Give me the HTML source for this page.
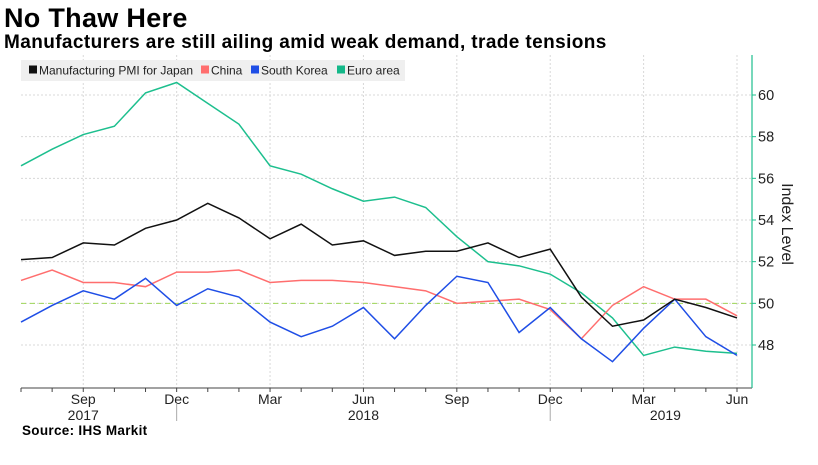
<!DOCTYPE html>
<html><head><meta charset="utf-8"><style>
body{margin:0;background:#fff;font-family:"Liberation Sans",sans-serif}
#wrap{position:relative;width:818px;height:465px;overflow:hidden}
.t{position:absolute;font-weight:bold;color:#000;white-space:nowrap}
</style></head><body>
<div id="wrap">
<div class="t" style="left:4px;top:3px;font-size:27px;letter-spacing:0.3px">No Thaw Here</div>
<div class="t" style="left:4px;top:32px;font-size:19px;letter-spacing:0.4px">Manufacturers are still ailing amid weak demand, trade tensions</div>
<div class="t" style="left:22px;top:423px;font-size:13.5px;letter-spacing:0.3px">Source: IHS Markit</div>
<svg id="chart" width="818" height="465" style="position:absolute;left:0;top:0"></svg>
</div>
<script>
const months=['Jul','Aug','Sep','Oct','Nov','Dec','Jan','Feb','Mar','Apr','May','Jun','Jul','Aug','Sep','Oct','Nov','Dec','Jan','Feb','Mar','Apr','May','Jun'];
const japan=[52.1,52.2,52.9,52.8,53.6,54.0,54.8,54.1,53.1,53.8,52.8,53.0,52.3,52.5,52.5,52.9,52.2,52.6,50.3,48.9,49.2,50.2,49.8,49.3];
const china=[51.1,51.6,51.0,51.0,50.8,51.5,51.5,51.6,51.0,51.1,51.1,51.0,50.8,50.6,50.0,50.1,50.2,49.7,48.3,49.9,50.8,50.2,50.2,49.4];
const korea=[49.1,49.9,50.6,50.2,51.2,49.9,50.7,50.3,49.1,48.4,48.9,49.8,48.3,49.9,51.3,51.0,48.6,49.8,48.3,47.2,48.8,50.2,48.4,47.5];
const euro=[56.6,57.4,58.1,58.5,60.1,60.6,59.6,58.6,56.6,56.2,55.5,54.9,55.1,54.6,53.2,52.0,51.8,51.4,50.5,49.3,47.5,47.9,47.7,47.6];
const yTicks=[48,50,52,54,56,58,60];
const xLabelIdx=[2,5,8,11,14,17,20,23];
const years=[{label:'2017',idx:2},{label:'2018',idx:11},{label:'2019',idx:20.7}];
const seps=[5,17];

const svg=document.getElementById('chart');
const NS='http://www.w3.org/2000/svg';
const x0=21,dx=(737-21)/23;
const xs=i=>x0+i*dx;
const ys=v=>95+(60-v)*(250/12);
function el(tag,attrs,parent){const e=document.createElementNS(NS,tag);for(const k in attrs)e.setAttribute(k,attrs[k]);(parent||svg).appendChild(e);return e;}

yTicks.forEach(v=>{
  const g=el('line',{x1:21,x2:752,y1:ys(v),y2:ys(v),stroke:'#d8d8d8','stroke-dasharray':'2,2','stroke-width':1});
  
  
});
xLabelIdx.forEach(i=>{
  const g=el('line',{x1:xs(i),x2:xs(i),y1:55,y2:388,stroke:'#d8d8d8','stroke-dasharray':'2,2','stroke-width':1});
  
  
});
const ref=el('line',{x1:21,x2:752,y1:ys(50),y2:ys(50),stroke:'#9fd65a','stroke-dasharray':'5,4','stroke-width':1});



const xa=el('line',{x1:21,x2:752,y1:388,y2:388,stroke:'#444','stroke-width':1});


months.forEach((m,i)=>{
  const t=el('line',{x1:xs(i),x2:xs(i),y1:388,y2:392,stroke:'#444'});
  
  
});
xLabelIdx.forEach(i=>{
  const t=el('text',{x:xs(i),y:404,'font-size':14,'text-anchor':'middle',fill:'#222','font-family':'Liberation Sans, sans-serif'});
  t.textContent=months[i];
  
  
});
years.forEach(y=>{
  const t=el('text',{x:xs(y.idx),y:420,'font-size':14,'text-anchor':'middle',fill:'#222','font-family':'Liberation Sans, sans-serif'});
  t.textContent=y.label;
  
  
});
seps.forEach(i=>{
  const s=el('line',{x1:xs(i),x2:xs(i),y1:403,y2:421,stroke:'#aaa'});
  
  
});
const ya=el('line',{x1:752,x2:752,y1:55,y2:388,stroke:'#1dbf8e','stroke-width':1.2});


yTicks.forEach(v=>{
  const t=el('line',{x1:752,x2:756,y1:ys(v),y2:ys(v),stroke:'#1dbf8e'});
  
  
  const l=el('text',{x:758,y:ys(v)+5,'font-size':14.5,fill:'#222','font-family':'Liberation Sans, sans-serif'});
  l.textContent=v;
  
  
});
const yt=el('text',{x:0,y:0,'font-size':16,fill:'#222','font-family':'Liberation Sans, sans-serif','text-anchor':'middle',transform:'translate(782,224) rotate(90)'});
yt.textContent='Index Level';



const series=[{d:euro,c:'#1dbf8e',n:'euro-area-line'},{d:china,c:'#ff6e6e',n:'china-line'},{d:korea,c:'#1f4ee6',n:'south-korea-line'},{d:japan,c:'#111',n:'japan-line'}];
series.forEach(s=>{
  const p=el('polyline',{points:s.d.map((v,i)=>xs(i)+','+ys(v)).join(' '),fill:'none',stroke:s.c,'stroke-width':1.5,'stroke-linejoin':'miter'});
  
  
});

const lg=el('rect',{x:21,y:60,width:384,height:21,fill:'#efefef'});


const legendItems=[{t:'Manufacturing PMI for Japan',c:'#111',x:29},{t:'China',c:'#ff6e6e',x:201},{t:'South Korea',c:'#1f4ee6',x:251},{t:'Euro area',c:'#14b889',x:337}];
legendItems.forEach(it=>{
  const r=el('rect',{x:it.x,y:65.5,width:8,height:8,fill:it.c});
  
  
  const t=el('text',{x:it.x+10,y:74.5,'font-size':12,fill:'#222','font-family':'Liberation Sans, sans-serif'});
  t.textContent=it.t;
  
  
});
</script>
</body></html>
